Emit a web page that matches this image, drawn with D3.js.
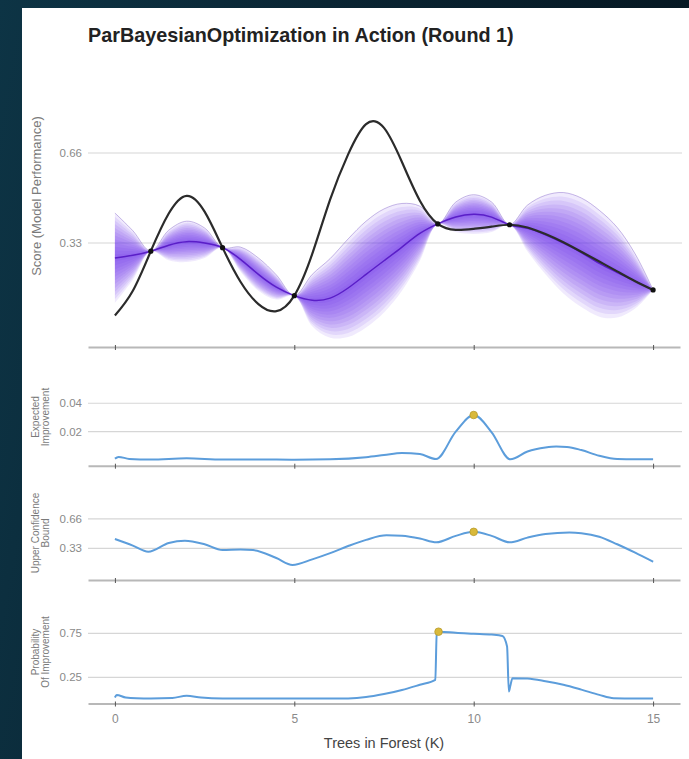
<!DOCTYPE html>
<html>
<head>
<meta charset="utf-8">
<script src="https://cdn.jsdelivr.net/npm/d3@7/dist/d3.min.js"></script>
<style>
  html, body { margin: 0; padding: 0; }
  body {
    width: 689px; height: 759px; overflow: hidden;
    background: linear-gradient(100deg, #0d3445 0%, #0a2533 40%, #04131d 100%);
  }
  svg { display: block; }
  text { font-family: "Liberation Sans", Arial, sans-serif; }
</style>
</head>
<body>
<svg id="chart" width="689" height="759"></svg>
<script>
// ---- data ----
const xTicks = [0, 5, 10, 15];
const xTickLabels = ["0", "5", "10", "15"];

// sample locations (K trees) for the objective and the GP posterior
const sampleX = [0, 0.5, 1, 1.5, 2, 2.5, 3, 3.5, 4, 4.5, 5, 5.5, 6, 6.5, 7, 7.5,
                 8, 8.5, 9, 9.5, 10, 10.5, 11, 11.5, 12, 12.5, 13, 13.5, 14, 14.5, 15];
// true objective
const trueScore = [0.064, 0.155, 0.300, 0.438, 0.503, 0.445, 0.313, 0.188, 0.106, 0.080, 0.137,
                   0.290, 0.490, 0.655, 0.766, 0.752, 0.627, 0.485, 0.400, 0.378, 0.382,
                   0.390, 0.397, 0.387, 0.363, 0.333, 0.298, 0.262, 0.226, 0.190, 0.158];
// GP posterior mean
const gpMean = [0.275, 0.285, 0.300, 0.322, 0.335, 0.330, 0.313, 0.270, 0.215, 0.168, 0.137,
                0.120, 0.128, 0.165, 0.215, 0.265, 0.315, 0.365, 0.400, 0.425, 0.435,
                0.425, 0.397, 0.384, 0.360, 0.330, 0.295, 0.255, 0.222, 0.190, 0.158];
// GP outer band half-width
const gpSpread = [0.165, 0.090, 0.000, 0.055, 0.075, 0.055, 0.000, 0.045, 0.060, 0.045, 0.000,
                  0.095, 0.145, 0.180, 0.195, 0.190, 0.160, 0.100, 0.000, 0.055, 0.072,
                  0.055, 0.000, 0.085, 0.145, 0.185, 0.200, 0.195, 0.165, 0.100, 0.000];

// evaluated points
const obsX = [1, 3, 5, 9, 11, 15];
const obsScore = [0.300, 0.313, 0.137, 0.400, 0.397, 0.158];

// Expected Improvement
const eiX = [0, 0.1, 0.4, 1, 2, 3, 4, 5, 6, 7, 7.5, 8, 8.5, 8.95, 9.5, 10, 10.5, 11.02,
             11.5, 12, 12.3, 12.6, 13, 13.5, 14, 14.5, 15];
const eiY = [0.0010, 0.0022, 0.0008, 0.0003, 0.0012, 0.0003, 0.0004, 0.0002, 0.0005, 0.0020,
             0.0035, 0.0050, 0.0042, 0.0007, 0.0200, 0.0317, 0.0195, 0.0005,
             0.0060, 0.0088, 0.0095, 0.0092, 0.0070, 0.0030, 0.0007, 0.0005, 0.0005];
const eiBest = { x: 10, y: 0.0317 };

// Upper Confidence Bound
const ucbX = [0, 0.5, 0.93, 1.5, 1.95, 2.5, 3, 3.5, 3.85, 4.5, 4.95, 5.5, 6, 6.5, 7, 7.57,
              8, 8.5, 8.96, 9.5, 10, 10.5, 11, 11.5, 12, 12.67, 13, 13.5, 14, 14.5, 15];
const ucbY = [0.434, 0.360, 0.292, 0.390, 0.415, 0.375, 0.310, 0.315, 0.310, 0.220, 0.142,
              0.205, 0.275, 0.355, 0.425, 0.476, 0.470, 0.440, 0.397, 0.470, 0.515,
              0.470, 0.397, 0.450, 0.490, 0.508, 0.500, 0.460, 0.375, 0.280, 0.178];
const ucbBest = { x: 10, y: 0.515 };

// Probability Of Improvement
const piX = [0, 0.05, 0.3, 0.6, 1, 1.6, 2, 2.4, 3, 4, 5, 6, 6.5, 7, 7.5, 8, 8.5, 8.93,
             8.97, 9.05, 9.5, 10, 10.5, 10.8, 10.93, 10.98, 11.02, 11.08, 11.5, 12, 12.5,
             13, 13.5, 13.9, 14.5, 15];
const piY = [0.020, 0.050, 0.020, 0.012, 0.010, 0.015, 0.040, 0.020, 0.010, 0.010, 0.010,
             0.008, 0.010, 0.025, 0.060, 0.105, 0.165, 0.220,
             0.750, 0.768, 0.755, 0.745, 0.735, 0.720, 0.600, 0.087, 0.150, 0.240, 0.235,
             0.205, 0.165, 0.110, 0.050, 0.012, 0.008, 0.008];
const piBest = { x: 9.02, y: 0.768 };

// ---- layout ----
const svg = d3.select("#chart");
const plotLeft = 88, plotRight = 680;
const x = d3.scaleLinear().domain([-0.75, 15.75]).range([plotLeft, plotRight]);

svg.append("rect").attr("x", 22).attr("y", 8).attr("width", 667).attr("height", 751)
  .attr("fill", "#ffffff");

const panels = [
  { key: "score", top: 45, bottom: 347, domain: [-0.0513, 1.056],
    ticks: [0.33, 0.66], fmt: d3.format(".2f"),
    title: ["Score (Model Performance)"], titleY: 196, titleSize: 13 },
  { key: "ei", top: 370, bottom: 465.7, domain: [-0.004, 0.0634],
    ticks: [0.02, 0.04], fmt: d3.format(".2f"),
    title: ["Expected", "Improvement"], titleY: 417, titleSize: 10 },
  { key: "ucb", top: 486, bottom: 580, domain: [-0.027, 1.031],
    ticks: [0.33, 0.66], fmt: d3.format(".2f"),
    title: ["Upper Confidence", "Bound"], titleY: 533, titleSize: 10 },
  { key: "pi", top: 601, bottom: 703.5, domain: [-0.048, 1.117],
    ticks: [0.25, 0.75], fmt: d3.format(".2f"),
    title: ["Probability", "Of Improvement"], titleY: 652, titleSize: 10 }
];
panels.forEach(p => {
  p.y = d3.scaleLinear().domain(p.domain).range([p.bottom, p.top]);
});

// title
svg.append("text").attr("x", plotLeft).attr("y", 42)
  .attr("font-size", 19.8).attr("font-weight", "bold").attr("fill", "#222")
  .text("ParBayesianOptimization in Action (Round 1)");

// grid, axes, titles for each panel
panels.forEach((p, i) => {
  const g = svg.append("g");
  g.selectAll("line.grid").data(p.ticks).join("line")
    .attr("x1", plotLeft).attr("x2", plotRight + 2)
    .attr("y1", d => p.y(d)).attr("y2", d => p.y(d))
    .attr("stroke", "#d6d6d6").attr("stroke-width", 1.2);

  const ya = g.append("g").attr("transform", `translate(${plotLeft - 3},0)`)
    .call(d3.axisLeft(p.y).tickValues(p.ticks).tickFormat(p.fmt).tickSize(0).tickPadding(3));
  ya.select(".domain").remove();
  ya.selectAll("text").attr("fill", "#8a8a8a").attr("font-size", 11.5)
    .style("font-family", "'Liberation Sans', Arial, sans-serif");

  const last = i === panels.length - 1;
  const xa = g.append("g").attr("transform", `translate(0,${p.bottom})`)
    .call(d3.axisBottom(x).tickValues(xTicks)
      .tickFormat((d, j) => last ? xTickLabels[j] : "")
      .tickSizeInner(3).tickSizeOuter(0).tickPadding(8));
  xa.select(".domain").attr("stroke", "#b8b8b8").attr("stroke-width", 2);
  xa.selectAll(".tick line").attr("stroke", "#555").attr("y1", -2);
  xa.selectAll("text").attr("fill", "#8a8a8a").attr("font-size", 12)
    .style("font-family", "'Liberation Sans', Arial, sans-serif");

  const n = p.title.length;
  p.title.forEach((t, k) => {
    const cx = n === 1 ? 36 : 35 + k * 10.5;
    g.append("text")
      .attr("transform", `translate(${cx},${p.titleY}) rotate(-90)`)
      .attr("text-anchor", "middle").attr("dominant-baseline", "central")
      .attr("font-size", p.titleSize).attr("fill", "#7a7a7a").text(t);
  });
});

// x axis title
svg.append("text").attr("x", 384).attr("y", 748).attr("text-anchor", "middle")
  .attr("font-size", 14.5).attr("fill", "#444").text("Trees in Forest (K)");

// ---- score panel: GP band layers, mean, objective ----
const ps = panels[0];
const bandCurve = d3.curveCatmullRom.alpha(0.5);
const smooth = d3.curveNatural;
const gp = sampleX.map((v, i) => ({ x: v, m: gpMean[i], s: gpSpread[i], t: trueScore[i] }));

const levels = d3.range(1, 13).map(k => k / 12);
const bandG = svg.append("g");
levels.slice().reverse().forEach(f => {
  bandG.append("path").datum(gp)
    .attr("d", d3.area().curve(bandCurve)
      .x(d => x(d.x)).y0(d => ps.y(d.m - f * d.s)).y1(d => ps.y(d.m + f * d.s)))
    .attr("fill", "rgb(112,48,236)").attr("fill-opacity", 0.1);
});
// faint rim on the outer upper edge
bandG.append("path").datum(gp)
  .attr("d", d3.line().curve(bandCurve).x(d => x(d.x)).y(d => ps.y(d.m + d.s)))
  .attr("fill", "none").attr("stroke", "rgba(130,100,200,0.45)").attr("stroke-width", 1);
// posterior mean
bandG.append("path").datum(gp)
  .attr("d", d3.line().curve(smooth).x(d => x(d.x)).y(d => ps.y(d.m)))
  .attr("fill", "none").attr("stroke", "#5a1ec8").attr("stroke-width", 1.5);

// objective
svg.append("path").datum(gp)
  .attr("d", d3.line().curve(smooth).x(d => x(d.x)).y(d => ps.y(d.t)))
  .attr("fill", "none").attr("stroke", "#2b2b2b").attr("stroke-width", 2.2);

svg.append("g").selectAll("circle").data(obsX.map((v, i) => ({ x: v, y: obsScore[i] })))
  .join("circle").attr("cx", d => x(d.x)).attr("cy", d => ps.y(d.y)).attr("r", 2.6)
  .attr("fill", "#111");

// ---- acquisition panels ----
function acqLine(p, xs, ys, best) {
  const pts = xs.map((v, i) => ({ x: v, y: ys[i] }));
  svg.append("path").datum(pts)
    .attr("d", d3.line().curve(d3.curveMonotoneX).x(d => x(d.x)).y(d => p.y(d.y)))
    .attr("fill", "none").attr("stroke", "#5c9ddb").attr("stroke-width", 2)
    .attr("stroke-linejoin", "round");
  svg.append("circle").attr("cx", x(best.x)).attr("cy", p.y(best.y)).attr("r", 3.8)
    .attr("fill", "#d9b93a").attr("stroke", "#b89a2a").attr("stroke-width", 0.8);
}
acqLine(panels[1], eiX, eiY, eiBest);
acqLine(panels[2], ucbX, ucbY, ucbBest);
acqLine(panels[3], piX, piY, piBest);
</script>
</body>
</html>
